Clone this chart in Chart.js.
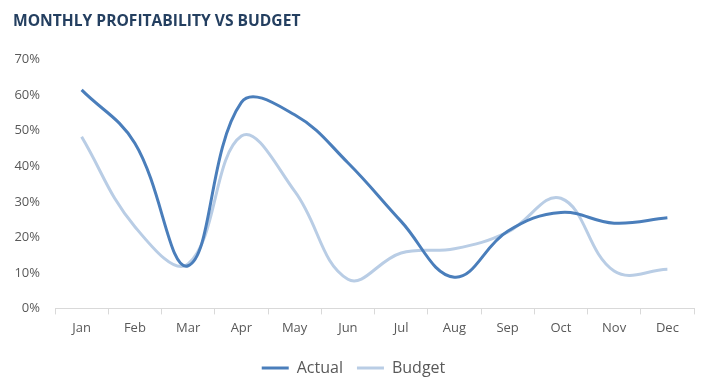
<!DOCTYPE html>
<html lang="en">
<head>
  <meta charset="UTF-8">
  <title>Monthly Profitability vs Budget</title>
  <script src="https://cdn.jsdelivr.net/npm/chart.js"></script>
  <style>
    html, body { margin: 0; padding: 0; background: #fff; }
    #wrap { width: 718px; height: 388px; }
  </style>
</head>
<body>
  <div id="wrap"><canvas id="profitChart"></canvas></div>

  <script>
    const months = ['Jan', 'Feb', 'Mar', 'Apr', 'May', 'Jun', 'Jul', 'Aug', 'Sep', 'Oct', 'Nov', 'Dec'];
    const actual = [61.5, 46.5, 12, 58, 54.5, 41, 24.5, 8.8, 21.7, 27, 24, 25.5];
    const budget = [48.3, 23, 12.5, 48.5, 33, 8.2, 15.6, 16.8, 21.5, 31, 10.5, 11];
    const yTicks = [0, 10, 20, 30, 40, 50, 60, 70];

    const labelColor = '#595959';
    const fontFamily = "'Open Sans', 'DejaVu Sans', sans-serif";

    const ctx = document.getElementById('profitChart').getContext('2d');
    new Chart(ctx, {
      type: 'line',
      data: {
        labels: months,
        datasets: [
          {
            label: 'Actual',
            data: actual,
            borderColor: '#4a7ebb',
            backgroundColor: '#4a7ebb',
            borderWidth: 3,
            pointRadius: 0,
            tension: 0.4
          },
          {
            label: 'Budget',
            data: budget,
            borderColor: '#b9cde5',
            backgroundColor: '#b9cde5',
            borderWidth: 3,
            pointRadius: 0,
            tension: 0.4
          }
        ]
      },
      options: {
        responsive: true,
        maintainAspectRatio: false,
        animation: false,
        layout: { padding: { left: 13, right: 24, top: 4, bottom: 2 } },
        plugins: {
          title: {
            display: true,
            text: 'MONTHLY PROFITABILITY VS BUDGET',
            align: 'start',
            color: '#243f60',
            font: { family: fontFamily, size: 15.6, weight: 'bold' },
            padding: { top: 8, bottom: 29 }
          },
          legend: {
            position: 'bottom',
            labels: {
              usePointStyle: true,
              pointStyle: 'line',
              pointStyleWidth: 27,
              color: labelColor,
              font: { family: fontFamily, size: 16 },
              padding: 14
            }
          },
          tooltip: { enabled: false }
        },
        scales: {
          x: {
            offset: true,
            afterFit: scale => { scale.height += 4; },
            grid: { display: true, offset: true, drawOnChartArea: false, drawTicks: true, tickLength: 6, color: '#d9d9d9' },
            border: { display: true, color: '#d9d9d9' },
            ticks: { color: labelColor, font: { family: fontFamily, size: 13 }, padding: 6 }
          },
          y: {
            min: yTicks[0],
            max: yTicks[yTicks.length - 1],
            afterBuildTicks: scale => { scale.ticks = yTicks.map(v => ({ value: v })); },
            afterFit: scale => { scale.width = 42; },
            grid: { display: false, drawTicks: false },
            border: { display: false },
            ticks: {
              color: labelColor,
              font: { family: fontFamily, size: 13 },
              padding: 15,
              callback: v => v + '%'
            }
          }
        }
      }
    });
  </script>
</body>
</html>
